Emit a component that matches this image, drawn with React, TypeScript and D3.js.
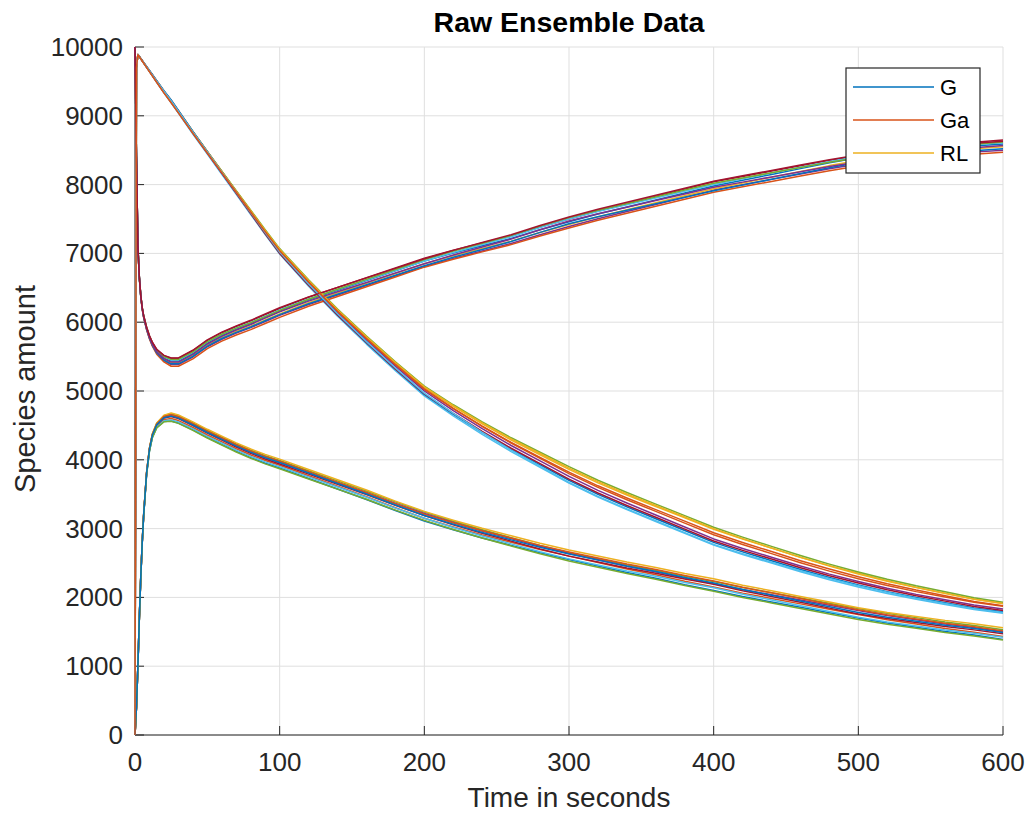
import React from 'react';
import * as d3 from 'd3';

// Sample times (seconds)
const times = [0, 1, 2, 3, 4, 5, 6, 8, 10, 12, 15, 20, 25, 30, 40, 50, 60, 70, 80, 90, 100,
  120, 140, 160, 180, 200, 220, 240, 260, 280, 300, 320, 340, 360, 380, 400,
  420, 440, 460, 480, 500, 520, 540, 560, 580, 600];

// Ensemble mean
const gMean = [10000, 8400, 7100, 6650, 6380, 6200, 6080, 5910, 5780, 5680, 5570, 5470, 5420, 5420, 5530, 5680, 5790, 5880, 5960, 6050, 6140,
  6300, 6440, 6580, 6720, 6860, 6980, 7090, 7200, 7330, 7450, 7560, 7660, 7760, 7860, 7960,
  8040, 8120, 8200, 8280, 8350, 8400, 8450, 8490, 8530, 8560];
const gaMean = [0, 400, 1000, 1700, 2300, 2800, 3200, 3800, 4150, 4350, 4500, 4600, 4620, 4590, 4490, 4380, 4280, 4180, 4090, 4010, 3940,
  3790, 3640, 3490, 3330, 3180, 3050, 2930, 2820, 2710, 2610, 2520, 2430, 2350, 2260, 2180,
  2090, 2010, 1930, 1850, 1770, 1700, 1640, 1580, 1530, 1470];
const rlMean = [0, 9700, 9890, 9860, 9830, 9800, 9770, 9710, 9650, 9590, 9500, 9350, 9210, 9060, 8760, 8470, 8180, 7890, 7600, 7310, 7030,
  6570, 6140, 5740, 5360, 5000, 4720, 4460, 4220, 4000, 3780, 3580, 3400, 3230, 3060, 2890,
  2750, 2620, 2490, 2370, 2260, 2160, 2070, 1990, 1910, 1850];

// Deviation of each run from the mean at a few times (10 runs)
const offsetTimes = [0, 25, 100, 200, 300, 400, 500, 600];
const gOffsets = [
  [0, 15, 20, 30, 10, 20, 40, 30],
  [0, -35, -40, -50, -60, -40, -50, -60],
  [0, 55, 60, 70, 50, 80, 70, 90],
  [0, -10, -20, -10, -30, -20, 0, -10],
  [0, 30, 40, 30, 50, 40, 60, 50],
  [0, -60, -70, -60, -80, -70, -80, -90],
  [0, 40, 30, 50, 70, 60, 40, 60],
  [0, -25, -30, -40, -20, -50, -30, -40],
  [0, 0, 10, -10, 20, 0, -20, 10],
  [0, 60, 70, 60, 80, 90, 80, 70],
];
const gaOffsets = [
  [0, -20, -20, -30, -10, -30, -20, -40],
  [0, 50, 50, 60, 40, 50, 70, 60],
  [0, -55, -60, -70, -60, -80, -70, -80],
  [0, 30, 20, 40, 30, 20, 40, 30],
  [0, 10, 0, 10, -10, 10, -10, 0],
  [0, 60, 70, 70, 80, 90, 80, 90],
  [0, -40, -40, -30, -50, -40, -60, -50],
  [0, 35, 40, 30, 50, 60, 50, 40],
  [0, -60, -70, -60, -80, -90, -90, -90],
  [0, 15, 20, 10, 20, 30, 10, 20],
];
const rlOffsets = [
  [0, 10, 20, 50, 80, 100, 90, 60],
  [0, -20, -40, -70, -120, -130, -110, -80],
  [0, 15, 10, 20, 40, 50, 40, 30],
  [0, -5, 40, 70, 120, 130, 110, 80],
  [0, 20, -20, -50, -80, -90, -80, -60],
  [0, -15, 0, 0, -20, -40, -30, -20],
  [0, 5, -30, -40, -60, -70, -50, -40],
  [0, -10, 30, 60, 100, 110, 80, 60],
  [0, 10, -10, -30, -110, -120, -90, -70],
  [0, -20, 10, 30, 20, 20, 10, 20],
];

const xTicks = [0, 100, 200, 300, 400, 500, 600];
const yTicks = [0, 1000, 2000, 3000, 4000, 5000, 6000, 7000, 8000, 9000, 10000];
const colors = ['#0072BD', '#D95319', '#EDB120', '#7E2F8E', '#77AC30', '#4DBEEE', '#A2142F'];
const legendLabels = ['G', 'Ga', 'RL'];

const FONT = "'Liberation Sans', Arial, Helvetica, sans-serif";

export default function App() {
  const W = 1027, H = 814;
  const L = 135, R = 1003, T = 47, B = 735;
  const x = d3.scaleLinear().domain([0, 600]).range([L, R]);
  const y = d3.scaleLinear().domain([0, 10000]).range([B, T]);
  const lineGen = d3.line<[number, number]>().x(d => x(d[0])).y(d => y(d[1]));

  const species = [
    { mean: gMean, offs: gOffsets },
    { mean: gaMean, offs: gaOffsets },
    { mean: rlMean, offs: rlOffsets },
  ];
  const paths: { d: string; c: string }[] = [];
  for (let r = 0; r < gOffsets.length; r++) {
    species.forEach((s, si) => {
      const dev = d3.scaleLinear().domain(offsetTimes).range(s.offs[r]);
      const pts: [number, number][] = times.map((t, i) => [t, s.mean[i] + (i === 0 ? 0 : dev(t))]);
      paths.push({ d: lineGen(pts) || '', c: colors[(r * 3 + si) % colors.length] });
    });
  }

  const axisColor = '#262626';
  const gridColor = '#dfdfdf';
  const tickLen = 9;

  return (
    <svg width={W} height={H} style={{ position: 'absolute', left: 0, top: 0, background: '#fff' }}
      fontFamily={FONT}>
      <rect x={0} y={0} width={W} height={H} fill="#fff" />
      {xTicks.map(t => (
        <line key={'gx' + t} x1={x(t)} x2={x(t)} y1={T} y2={B} stroke={gridColor} strokeWidth={1} />
      ))}
      {yTicks.map(t => (
        <line key={'gy' + t} x1={L} x2={R} y1={y(t)} y2={y(t)} stroke={gridColor} strokeWidth={1} />
      ))}
      <line x1={L} x2={R} y1={B} y2={B} stroke={axisColor} strokeWidth={1} />
      <line x1={L} x2={L} y1={T} y2={B} stroke={axisColor} strokeWidth={1} />
      {xTicks.map(t => (
        <g key={'tx' + t}>
          <line x1={x(t)} x2={x(t)} y1={B} y2={B - tickLen} stroke={axisColor} strokeWidth={1} />
          <text x={x(t)} y={771} textAnchor="middle" fontSize={26} fill={axisColor}>{t}</text>
        </g>
      ))}
      {yTicks.map(t => (
        <g key={'ty' + t}>
          <line x1={L} x2={L + tickLen} y1={y(t)} y2={y(t)} stroke={axisColor} strokeWidth={1} />
          <text x={123} y={y(t) + 9} textAnchor="end" fontSize={26} fill={axisColor}>{t}</text>
        </g>
      ))}
      {paths.map((p, i) => (
        <path key={i} d={p.d} fill="none" stroke={p.c} strokeWidth={1.5} strokeLinejoin="round" />
      ))}
      <text x={569} y={32} textAnchor="middle" fontSize={28.5} fontWeight="bold" fill="#000">Raw Ensemble Data</text>
      <text x={569} y={807} textAnchor="middle" fontSize={28} fill={axisColor}>Time in seconds</text>
      <text transform="translate(35,389) rotate(-90)" textAnchor="middle" fontSize={29} fill={axisColor}>Species amount</text>
      <rect x={846} y={68} width={134} height={105} fill="#fff" stroke={axisColor} strokeWidth={1.2} />
      {legendLabels.map((lab, i) => (
        <g key={lab}>
          <line x1={853} x2={934} y1={87 + i * 33} y2={87 + i * 33} stroke={colors[i]} strokeWidth={1.3} />
          <text x={940} y={87 + i * 33 + 8} fontSize={22} fill="#000">{lab}</text>
        </g>
      ))}
    </svg>
  );
}
